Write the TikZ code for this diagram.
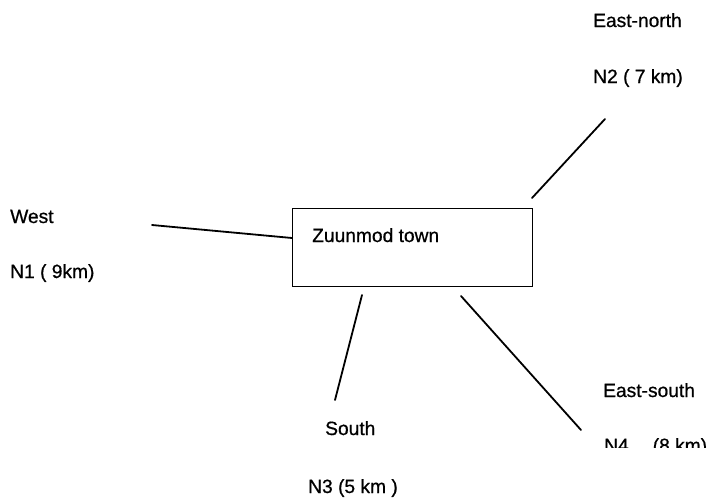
\documentclass[tikz,border=0pt]{standalone}
\usepackage{fontspec}
\setmainfont{Liberation Sans}
\newfontfamily\labelfont[FakeBold=0.7]{Liberation Sans}
\begin{document}
\begin{tikzpicture}[x=1pt,y=-1pt,
  lbl/.style={anchor=base west,inner sep=0pt,font=\labelfont\fontsize{19.2}{19.2}\selectfont},
  road/.style={line width=1.8pt,line cap=round},
  townbox/.style={draw,line width=1.3pt,anchor=north west,inner sep=0pt,
    minimum width=240pt,minimum height=78pt}]
\useasboundingbox (0,0) rectangle (708,498);

% town block
\node[townbox] (town) at (292,208) {};
\node[lbl] (townname) at (312,242) {Zuunmod town};

% road end points
\coordinate (w1) at (152,225);
\coordinate (w2) at (town.west |- 0,238);
\coordinate (ne1) at (532,198);
\coordinate (ne2) at (605,119);
\coordinate (s1) at (362,295);
\coordinate (s2) at (335,400);
\coordinate (se1) at (461,296);
\coordinate (se2) at (581,430);

% roads
\draw[road] (w1) -- (w2);
\draw[road] (ne1) -- (ne2);
\draw[road] (s1) -- (s2);
\draw[road] (se1) -- (se2);

% directions and distances
\node[lbl] (en) at (593,27) {East-north};
\node[lbl] (n2) at (593,83) {N2 ( 7 km)};
\node[lbl] (west) at (10,223) {West};
\node[lbl] (n1) at (10,278) {N1 ( 9km)};
\node[lbl] (south) at (325,435) {South};
\node[lbl] (n3) at (308,493) {N3 (5 km )};
\node[lbl] (es) at (603,397) {East-south};
\begin{scope}
  \clip (590,380) rectangle (708,447);
  \node[lbl] (n4) at (604,452) {N4\hspace{24pt}(8 km)};
\end{scope}
\end{tikzpicture}
\end{document}
